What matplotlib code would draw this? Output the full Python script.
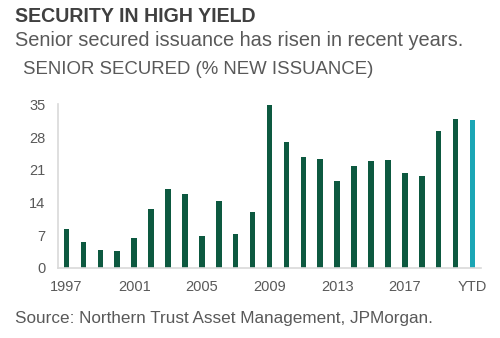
import matplotlib.pyplot as plt

plt.rcParams['font.family'] = ['Liberation Sans', 'DejaVu Sans']

years = [str(y) for y in range(1997, 2021)] + ['YTD']
values = [8.3, 5.5, 3.8, 3.6, 6.4, 12.6, 16.8, 15.8, 6.8, 14.4, 7.2, 11.9,
          34.8, 26.9, 23.8, 23.2, 18.5, 21.9, 22.8, 23.0, 20.3, 19.6, 29.4, 31.8,
          31.6]
tick_labels = ['1997', '2001', '2005', '2009', '2013', '2017', 'YTD']
y_ticks = [0, 7, 14, 21, 28, 35]

green = '#0d5940'
teal = '#1ba6b5'
colors = [green] * (len(values) - 1) + [teal]

fig = plt.figure(figsize=(5, 3.38), dpi=100)
ax = fig.add_axes([0.116, 0.208, 0.846, 0.483])

x = list(range(len(values)))
ax.bar(x, values, width=0.33, color=colors)

ax.set_xlim(-0.5, len(values) - 0.5)
ax.set_ylim(0, 35)
ax.set_yticks(y_ticks)
ax.set_xticks([years.index(t) for t in tick_labels])
ax.set_xticklabels(tick_labels)
ax.tick_params(length=0, labelsize=10.5, colors='#595959')
ax.tick_params(axis='y', pad=9)
ax.tick_params(axis='x', pad=9)

for s in ['top', 'right']:
    ax.spines[s].set_visible(False)
for s in ['left', 'bottom']:
    ax.spines[s].set_color('#d9d9d9')
    ax.spines[s].set_linewidth(1.2)

fig.text(0.03, 1 - 16/338, 'SECURITY IN HIGH YIELD', fontsize=14.1,
         fontweight='bold', color='#404040', va='center')
fig.text(0.03, 1 - 41/338, 'Senior secured issuance has risen in recent years.',
         fontsize=14.4, color='#595959', va='center')
fig.text(0.046, 1 - 69/338, 'SENIOR SECURED (% NEW ISSUANCE)', fontsize=13.4,
         color='#595959', va='center')
fig.text(0.03, 1 - 319/338, 'Source: Northern Trust Asset Management, JPMorgan.',
         fontsize=12.3, color='#595959', va='center')

fig.savefig('out.png', dpi=100)
